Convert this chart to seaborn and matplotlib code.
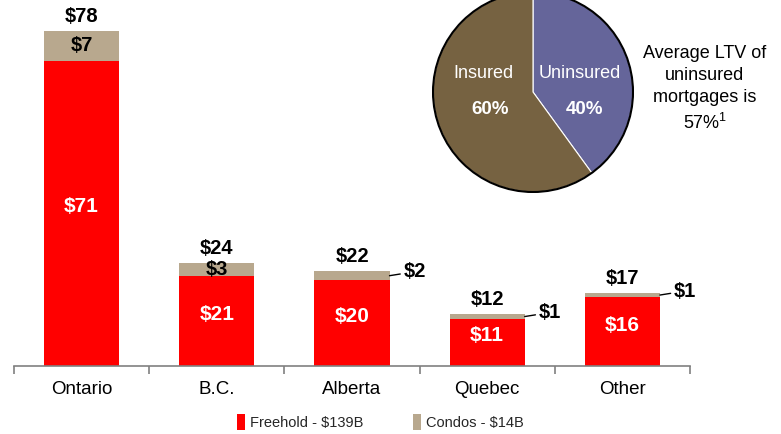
import matplotlib
matplotlib.use("Agg")
import matplotlib.pyplot as plt
import seaborn as sns
import pandas as pd
from matplotlib.patches import Patch, Circle

categories = ["Ontario", "B.C.", "Alberta", "Quebec", "Other"]
freehold = [71, 21, 20, 11, 16]
condos = [7, 3, 2, 1, 1]
totals = [78, 24, 22, 12, 17]
pie_labels = ["Uninsured", "Insured"]
pie_values = [40, 60]
legend_labels = ["Freehold - $139B", "Condos - $14B"]
note_text = "Average LTV of\nuninsured\nmortgages is\n57%$^{\\mathregular{1}}$"

RED = "#FF0000"
TAN = "#B8A88E"
BROWN = "#766241"
PURPLE = "#65659A"

sns.set_theme(style="white")
plt.rcParams["font.family"] = ["Liberation Sans", "DejaVu Sans"]
plt.rcParams["mathtext.default"] = "regular"

W, H = 781, 434
fig = plt.figure(figsize=(W / 100, H / 100), dpi=100)

# bar axes: x from 14 to 690 px, baseline at y=366 px, top at y=10 px
ax = fig.add_axes([14 / W, (H - 366) / H, 676 / W, 356 / H])
df = pd.DataFrame({"cat": categories, "total": totals, "freehold": freehold, "condo": condos})
bw = 0.555
sns.barplot(data=df, x="cat", y="total", color=TAN, width=bw, saturation=1, ax=ax,
            linewidth=0, edgecolor="none")
sns.barplot(data=df, x="cat", y="freehold", color=RED, width=bw, saturation=1, ax=ax,
            linewidth=0, edgecolor="none")
ax.set_ylim(0, 356 / 4.3)
ax.set_xlim(-0.5, len(categories) - 0.5)
ax.set_xlabel("")
ax.set_ylabel("")
ax.set_yticks([])
for s in ["top", "right", "left"]:
    ax.spines[s].set_visible(False)
ax.spines["bottom"].set_color("#808080")
ax.spines["bottom"].set_linewidth(1.2)
ax.set_xticks(range(len(categories)))
ax.set_xticklabels(categories, fontsize=13.5, color="black")
ax.tick_params(axis="x", which="major", length=0, pad=11)
ax.set_xticks([i - 0.5 for i in range(len(categories) + 1)], minor=True)
ax.tick_params(axis="x", which="minor", length=6, width=1.2, color="#808080", direction="out", bottom=True)

for i, (f, c, t) in enumerate(zip(freehold, condos, totals)):
    ax.text(i, f / 2 + 1.5, f"${f}", ha="center", va="center", color="white",
            fontsize=15, fontweight="bold")
    ax.annotate(f"${t}", xy=(i, t), xytext=(0, 5), textcoords="offset pixels",
                ha="center", va="bottom", fontsize=14.5, fontweight="bold", color="black")
    if c >= 3:
        ax.text(i, f + c / 2, f"${c}", ha="center", va="center", color="black",
                fontsize=14.5, fontweight="bold")
    else:
        ax.annotate(f"${c}", xy=(i + bw / 2, f + c / 2), xytext=(14, 4),
                    textcoords="offset pixels", ha="left", va="center",
                    fontsize=14.5, fontweight="bold", color="black",
                    arrowprops=dict(arrowstyle="-", color="black", lw=1, shrinkA=0, shrinkB=0))

# legend
handles = [Patch(facecolor=RED, edgecolor="none"), Patch(facecolor=TAN, edgecolor="none")]
fig.legend(handles, legend_labels, loc="center", bbox_to_anchor=(380 / W, 1 - 422 / H),
           ncol=2, frameon=False, fontsize=10.5, handlelength=0.55, handleheight=1.3,
           handletextpad=0.35, columnspacing=3.4)

# pie: center (533, 92), radius ~101 px
r = 101
pax = fig.add_axes([(533 - r) / W, (H - 92 - r) / H, 2 * r / W, 2 * r / H])
pax.pie(pie_values, colors=[PURPLE, BROWN], startangle=90, counterclock=False,
        radius=1, wedgeprops=dict(edgecolor="white", linewidth=0.8))
pax.add_patch(Circle((0, 0), 1, fill=False, edgecolor="black", linewidth=1.5))
pax.set_xlim(-1.01, 1.01)
pax.set_ylim(-1.01, 1.01)
pax.set_aspect("equal")
pax.axis("off")
pax.text(-0.5, 0.19, pie_labels[1], ha="center", va="center", color="white", fontsize=13)
pax.text(-0.43, -0.18, f"{pie_values[1]}%", ha="center", va="center", color="white",
         fontsize=13.5, fontweight="bold")
pax.text(0.47, 0.19, pie_labels[0], ha="center", va="center", color="white", fontsize=13)
pax.text(0.52, -0.18, f"{pie_values[0]}%", ha="center", va="center", color="white",
         fontsize=13.5, fontweight="bold")

fig.text(705 / W, 1 - 89 / H, note_text, ha="center", va="center", fontsize=13,
         color="black", linespacing=1.4)

fig.savefig("out.png", dpi=100)
